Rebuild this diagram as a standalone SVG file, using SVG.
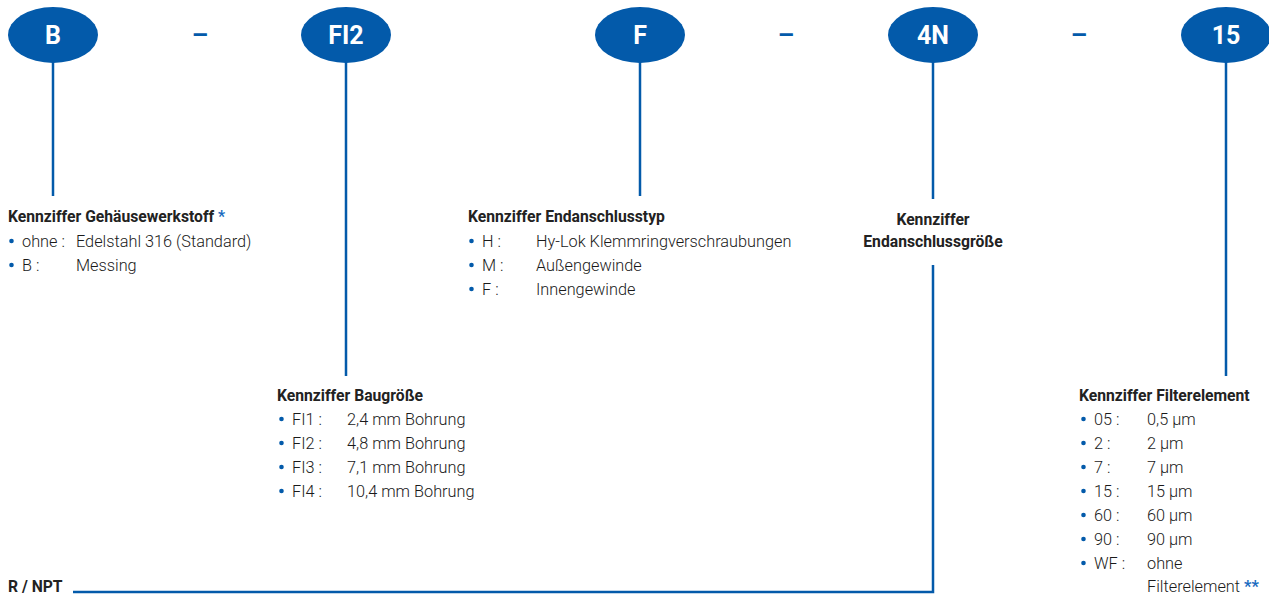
<svg xmlns="http://www.w3.org/2000/svg" width="1269" height="596" viewBox="0 0 1269 596">
<style>
.ell{fill:#035aaa}
.code{font-family:Roboto,"Liberation Sans",sans-serif;font-weight:700;font-size:25px;fill:#fff;text-anchor:middle}
.dash{font-family:Roboto,"Liberation Sans",sans-serif;font-weight:700;font-size:26px;fill:#035aaa;text-anchor:middle}
.hd{font-family:Roboto,"Liberation Sans",sans-serif;font-weight:700;font-size:15.7px;fill:#222}
.tx{font-family:Roboto,"Liberation Sans",sans-serif;font-weight:300;font-size:16.3px;fill:#1a1a1a}
.bl{fill:#035aaa}
.star{fill:#1a6bc0;font-weight:700}
.ln{stroke:#035aaa;stroke-width:2.5;fill:none}
</style>
<rect width="1269" height="596" fill="#fff"/>
<g id="connectors">
<line class="ln" x1="53" y1="60" x2="53" y2="196"/>
<line class="ln" x1="346" y1="60" x2="346" y2="376"/>
<line class="ln" x1="640" y1="60" x2="640" y2="196"/>
<line class="ln" x1="933" y1="60" x2="933" y2="199"/>
<polyline class="ln" points="933,265 933,592 73,592"/>
<line class="ln" x1="1226" y1="60" x2="1226" y2="376"/>
</g>
<g id="dashes">
<text class="dash" x="200" y="44">–</text>
<text class="dash" x="786" y="44">–</text>
<text class="dash" x="1079" y="44">–</text>
</g>
<g id="node-B">
<ellipse class="ell" cx="53" cy="35" rx="45" ry="28"/>
<text class="code" x="53" y="44">B</text>
</g>
<g id="node-FI2">
<ellipse class="ell" cx="346" cy="35" rx="45" ry="28"/>
<text class="code" x="346" y="44">FI2</text>
</g>
<g id="node-F">
<ellipse class="ell" cx="640" cy="35" rx="45" ry="28"/>
<text class="code" x="640" y="44">F</text>
</g>
<g id="node-4N">
<ellipse class="ell" cx="933" cy="35" rx="45" ry="28"/>
<text class="code" x="933" y="44">4N</text>
</g>
<g id="node-15">
<ellipse class="ell" cx="1226" cy="35" rx="45" ry="28"/>
<text class="code" x="1226" y="44">15</text>
</g>
<g id="desc-material">
<text class="hd" x="8" y="222">Kennziffer Gehäusewerkstoff <tspan class="star">*</tspan></text>
<circle class="bl" cx="11.5" cy="241" r="2.3"/>
<text class="tx" x="22" y="247">ohne :</text>
<text class="tx" x="76" y="247">Edelstahl 316 (Standard)</text>
<circle class="bl" cx="11.5" cy="265" r="2.3"/>
<text class="tx" x="22" y="271">B :</text>
<text class="tx" x="76" y="271">Messing</text>
</g>
<g id="desc-type">
<text class="hd" x="468" y="222">Kennziffer Endanschlusstyp</text>
<circle class="bl" cx="471.5" cy="241" r="2.3"/>
<text class="tx" x="482" y="247">H :</text>
<text class="tx" x="536" y="247">Hy-Lok Klemmringverschraubungen</text>
<circle class="bl" cx="471.5" cy="265" r="2.3"/>
<text class="tx" x="482" y="271">M :</text>
<text class="tx" x="536" y="271">Außengewinde</text>
<circle class="bl" cx="471.5" cy="289" r="2.3"/>
<text class="tx" x="482" y="295">F :</text>
<text class="tx" x="536" y="295">Innengewinde</text>
</g>
<g id="desc-size">
<text class="hd" x="933" y="225" text-anchor="middle">Kennziffer</text>
<text class="hd" x="933" y="247" text-anchor="middle">Endanschlussgröße</text>
</g>
<g id="desc-bau">
<text class="hd" x="277" y="401">Kennziffer Baugröße</text>
<circle class="bl" cx="281.5" cy="419" r="2.3"/>
<text class="tx" x="292" y="425">FI1 :</text>
<text class="tx" x="347" y="425">2,4 mm Bohrung</text>
<circle class="bl" cx="281.5" cy="443" r="2.3"/>
<text class="tx" x="292" y="449">FI2 :</text>
<text class="tx" x="347" y="449">4,8 mm Bohrung</text>
<circle class="bl" cx="281.5" cy="467" r="2.3"/>
<text class="tx" x="292" y="473">FI3 :</text>
<text class="tx" x="347" y="473">7,1 mm Bohrung</text>
<circle class="bl" cx="281.5" cy="491" r="2.3"/>
<text class="tx" x="292" y="497">FI4 :</text>
<text class="tx" x="347" y="497">10,4 mm Bohrung</text>
</g>
<g id="desc-filter">
<text class="hd" x="1079" y="401">Kennziffer Filterelement</text>
<circle class="bl" cx="1083.5" cy="419" r="2.3"/>
<text class="tx" x="1094" y="425">05 :</text>
<text class="tx" x="1147" y="425">0,5 µm</text>
<circle class="bl" cx="1083.5" cy="443" r="2.3"/>
<text class="tx" x="1094" y="449">2 :</text>
<text class="tx" x="1147" y="449">2 µm</text>
<circle class="bl" cx="1083.5" cy="467" r="2.3"/>
<text class="tx" x="1094" y="473">7 :</text>
<text class="tx" x="1147" y="473">7 µm</text>
<circle class="bl" cx="1083.5" cy="491" r="2.3"/>
<text class="tx" x="1094" y="497">15 :</text>
<text class="tx" x="1147" y="497">15 µm</text>
<circle class="bl" cx="1083.5" cy="515" r="2.3"/>
<text class="tx" x="1094" y="521">60 :</text>
<text class="tx" x="1147" y="521">60 µm</text>
<circle class="bl" cx="1083.5" cy="539" r="2.3"/>
<text class="tx" x="1094" y="545">90 :</text>
<text class="tx" x="1147" y="545">90 µm</text>
<circle class="bl" cx="1083.5" cy="563" r="2.3"/>
<text class="tx" x="1094" y="569">WF :</text>
<text class="tx" x="1147" y="569">ohne</text>
<text class="tx" x="1147" y="592">Filterelement <tspan class="star">**</tspan></text>
</g>
<g id="label-rnpt">
<text class="hd" x="8" y="592">R / NPT</text>
</g>
</svg>
